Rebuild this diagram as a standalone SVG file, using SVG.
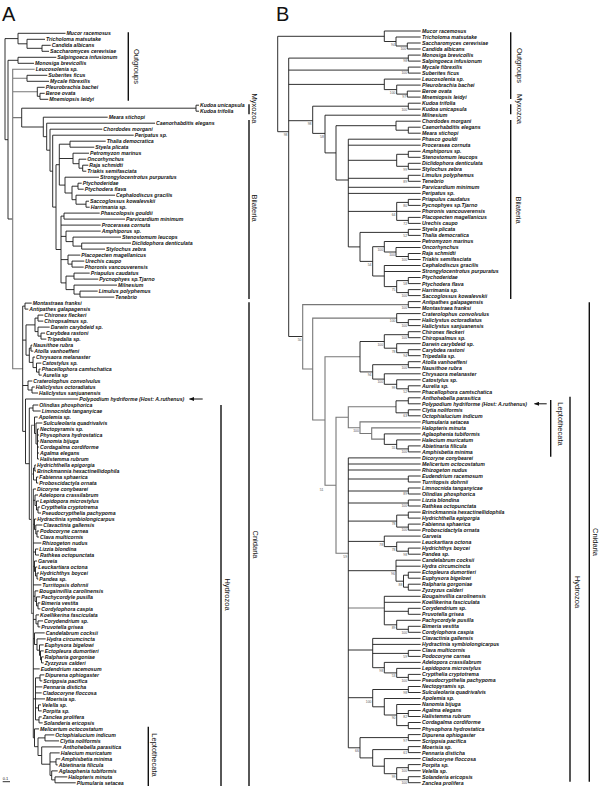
<svg xmlns="http://www.w3.org/2000/svg" width="600" height="786" viewBox="0 0 600 786">
<style>
.t{font-family:"Liberation Sans",Arial,sans-serif;font-size:5.2px;font-weight:bold;font-style:italic;fill:#111}
.bs{font-family:"Liberation Sans",Arial,sans-serif;font-size:3.4px;fill:#555;text-anchor:end}
.cl{font-family:"Liberation Sans",Arial,sans-serif;font-size:7.5px;fill:#111;text-anchor:middle}
.pl{font-family:"Liberation Sans",Arial,sans-serif;font-size:20px;fill:#111}
.br{fill:none;stroke:#1a1a1a;stroke-width:0.9}
.gr{fill:none;stroke:#777;stroke-width:1.1}
.bar{fill:none;stroke:#111;stroke-width:1.4}
.arr{fill:none;stroke:#111;stroke-width:1}
</style>
<defs>
<marker id="ah" viewBox="0 0 10 8" refX="9" refY="4" markerWidth="5" markerHeight="4" markerUnits="userSpaceOnUse" orient="auto"><path d="M0,0L10,4L0,8z" fill="#111"/></marker>
</defs>
<rect width="600" height="786" fill="#fff"/>
<text class="pl" x="2" y="20.5">A</text>
<text class="pl" x="276" y="20.5">B</text>

<g id="connectors-a">
<path class="br" d="M18,38.6H5V139.7H8M65.5,33.3H18V43.8H27M45,39.3H27V48.3H42M50.7,45.3H42V51.3H49M18,60.3H8V219H12.7M56.3,57.3H18V63.3H34"/>
<path class="gr" d="M34.7,69.3H12.7V368.8H22.7M12.7,78.3H27M12.7,91.8H37.3M12.7,117.6H21.7"/>
<path class="br" d="M47.3,75.3H27V81.3H49M44.7,87.3H37.3V96.3H40M44.7,93.3H40V99.3H48.3M196,108.2H21.7V127H43.3M199,105.2H196V111.2H199M107.7,117.2H43.3V136.7H46.7M155,123.2H46.7V150.2H50M102.3,129.2H50V171.2H52.7M133.7,135.2H52.7V207.1H56M59.3,164.7H56V249.5H61M70,144.2H59.3V185.1H65M59.3,158.5H73M105.7,141.2H70V147.2H94.3M89,153.2H73V163.7H79M86.3,159.2H79V168.2H82.7M88.3,165.2H82.7V171.2H86.3M99,177.2H65V193H72M78,186.2H72V199.7H76M81.7,183.2H78V189.2H83.7M115,195.2H76V204.2H86M89,201.2H86V207.2H89.7"/>
<path class="br" d="M64,216.1H61V282.9H66M61,225.1H100.7M61,236.4H66M61,259.6H68M99.7,213.1H64V219.1H125M100.7,231.1H66V241.6H73M121,237.1H73V246.1H81.7M131,243.1H81.7V249.1H105M80.3,255.1H68V264.1H72M84.3,261.1H72V267.1H83.7M74,276.1H66V289.6H74M89.7,273.1H74V279.1H98.3M117,285.1H74V294.1H80M97.7,291.1H80V297.1H114.3"/>
<path class="br" d="M25,306.1H22.7V431.4H25.5M22.7,340.1H26M22.7,385.5H28M31.7,303.1H25V309.1H28.3M35,324.9H26V355.2H29.3M38,318.1H35V331.6H38M43.3,315.1H38V321.1H43.3M49.7,327.1H38V336.1H41M45,333.1H41V339.1H46.3M31,348.1H29.3V362.4H33M32.3,345.1H31V351.1H33.3M35,357.1H33V367.6H36.5M41.3,363.1H36.5V372.1H39M40.7,369.1H39V375.1H41.7M32.3,381H28V390H32M34.7,387H32V393H38"/>
<path class="br" d="M78.3,399H25.5V463.7H29.3M33,408H29.3V519.4H31.5M38.3,405H33V411H40.7"/>
<path class="gr" d="M34.5,425.3H31.5V613.4H33.3M31.5,474H33.5"/>
<path class="br" d="M37.7,417H34.5V433.5H36M42.3,423H36V444H37.5M39,429H37.5V459H39M37.5,435H39M37.5,441H39M37.5,447H39M37.5,453H39M34.8,468H33.5V480H36.5M36,465H34.8V471H36M38.3,477H36.5V483H38.3"/>
<path class="br" d="M36,489H33.3V737.8H34.5M33.3,500.3H35M33.3,524.3H34.5M33.3,543H41.3M33.3,552H35.5M33.3,566.3H34.5M33.3,584.9H41.3M33.3,596.2H35M33.3,619.4H36M33.3,638.7H34.5M33.3,668.9H39.7M33.3,698.9H35.5M38,495H35V505.5H36.5M39,501H36.5V510H38M40,507H38V513H41M36.3,519H34.5V529.5H35.8M42.3,525H35.8V534H37M39,531H37V537H39M38.3,549H35.5V555H39M37,561H34.5V571.5H35.5M37.3,567H35.5V576H37M39,573H37V579H38.3M38.3,590.9H35V601.4H36.5M40.3,596.9H36.5V605.9H38M40.3,602.9H38V608.9H40.3M39,614.9H36V623.9H38M43,620.9H38V626.9H40.3M44.7,632.9H34.5V644.5H37M45.7,638.9H37V650.2H39.5M43.7,644.9H39.5V655.4H40.5M43.7,650.9H40.5V659.9H41.5M43.7,656.9H41.5V662.9H43.7M40,677.9H35.5V719.9H39M35.5,686.9H42.3M35.5,692.9H41.7M35.5,698.9H45M35.5,707.9H38.5M44.3,674.9H40V680.9H42.3M41,704.9H38.5V710.9H41.7M41.7,716.9H39V722.9H42.7M39,728.9H34.5V746.7H38M45,737.9H38V755.5H41.7M54.3,734.9H45V740.9H59M61.7,746.9H41.7V764.2H50M59.7,752.9H50V775.4H51.7M50,761.9H56M60.3,758.9H56V764.9H57.7M57.7,770.9H51.7V779.9H55M67.3,776.9H55V782.8H75.7"/>
<path class="arr" d="M202.7,399H189.5" marker-end="url(#ah)"/>
<path class="br" d="M2.7,781.7H10"/>
</g>

<g id="connectors-b">
<path class="br" d="M384.3,36.3H277.7V131.7H288.7M420.7,31H384.3V41.5H396M420.7,37H396V46H407.3M420.7,43H407.3V49H420.7M408.3,58.1H288.7V336.5H302.7M288.7,70.1H408.3M288.7,84.4H384.3M288.7,120.7H312.7M420.7,55.1H408.3V61.1H420.7M420.7,67.1H408.3V73.1H420.7M420.7,79.1H384.3V89.6H396.7M420.7,85.1H396.7V94.1H407.3M420.7,91.1H407.3V97.1H420.7M408.3,106.2H312.7V133.4H325M420.7,103.2H408.3V109.2H420.7M420.7,115.2H325V152.9H336M396,125.7H336V180H348.3M420.7,121.2H396V130.2H408.3M420.7,127.2H408.3V133.2H420.7"/>
<path class="br" d="M420.7,139.2H348.3V246.9H360M348.3,145.2H420.7M348.3,160.3H396.7M348.3,178.3H408.3M348.3,187.3H420.7M348.3,193.4H420.7M348.3,211.4H396.7M408.3,154.3H396.7V166.3H408.3M420.7,151.3H408.3V157.3H420.7M420.7,163.3H408.3V169.3H420.7M420.7,175.3H408.3V181.3H420.7M408.3,202.4H396.7V220.4H408.3M396.7,211.4H420.7M420.7,199.4H408.3V205.4H420.7M420.7,217.4H408.3V223.4H420.7M408.3,232.4H360V261.4H372.7M420.7,229.4H408.3V235.4H420.7M384.3,246.7H372.7V276H384.3M420.7,241.5H384.3V252H396M420.7,247.5H396V256.5H408.3M420.7,253.5H408.3V259.5H420.7M420.7,265.5H384.3V286.6H396.7M384.3,271.5H420.7M408.3,280.6H396.7V292.6H408.3M420.7,277.5H408.3V283.6H420.7M420.7,289.6H408.3V295.6H420.7"/>
<path class="gr" d="M408.3,304.6H302.7V369H312.7M396.7,318.1H312.7V420H325M360,356.7H325V485.3H336M348.3,417.3H336V553.3H348.3M396,406.8H348.3V427.7H360M420.7,421.9H360V433.5H371.7M420.7,427.9H371.7V439.1H384.3M348.3,608H384.3"/>
<path class="br" d="M420.7,301.6H408.3V307.6H420.7M420.7,313.6H396.7V322.6H408.3M420.7,319.6H408.3V325.6H420.7M384.3,341.5H360V371.9H372.7M408.3,334.7H384.3V348.2H396.7M420.7,331.7H408.3V337.7H420.7M420.7,343.7H396.7V352.7H408.3M420.7,349.7H408.3V355.7H420.7M408.3,364.7H372.7V379.1H384.3M420.7,361.7H408.3V367.7H420.7M420.7,373.8H384.3V384.3H396.7M420.7,379.8H396.7V388.8H408.3M420.7,385.8H408.3V391.8H420.7"/>
<path class="br" d="M408.3,400.8H396V412.8H408.3M420.7,397.8H408.3V403.8H420.7M420.7,409.8H408.3V415.8H420.7M420.7,433.9H384.3V444.4H396.7M420.7,439.9H396.7V448.9H408.3M420.7,445.9H408.3V451.9H420.7"/>
<path class="br" d="M420.7,457.9H348.3V747.8H360M348.3,464H420.7M348.3,470H420.7M348.3,479H408.3M348.3,491H408.3M348.3,503H408.3M348.3,521.1H396.7M348.3,541.4H384.3M348.3,570.7H396M348.3,650H372.7M348.3,697.7H372.7M420.7,476H408.3V482H420.7M420.7,488H408.3V494H420.7M420.7,500H408.3V506H420.7M408.3,515.1H396.7V527.1H408.3M420.7,512.1H408.3V518.1H420.7M420.7,524.1H408.3V530.1H420.7M420.7,536.1H384.3V546.6H396.7M420.7,542.1H396.7V551.2H408.3M420.7,548.1H408.3V554.2H420.7M420.7,560.2H396V581.2H403.5M396,566.2H420.7M408.3,575.2H403.5V587.2H408.3M420.7,572.2H408.3V578.2H420.7M420.7,584.2H408.3V590.2H420.7"/>
<path class="br" d="M420.7,596.3H384.3V624.8H396.7M384.3,602.3H420.7M384.3,611.3H408.3M420.7,608.3H408.3V614.3H420.7M420.7,620.3H396.7V629.3H408.3M420.7,626.3H408.3V632.3H420.7M420.7,638.4H372.7V667.7H384.3M372.7,644.4H420.7M372.7,653.4H408.3M420.7,650.4H408.3V656.4H420.7M420.7,662.4H384.3V672.9H396.7M420.7,668.4H396.7V677.4H408.3M420.7,674.4H408.3V680.4H420.7M408.3,689.5H372.7V706.8H384.3M420.7,686.5H408.3V692.5H420.7M420.7,698.5H384.3V715H396.7M420.7,704.5H396.7V725.6H408.3M396.7,713.5H408.3M420.7,710.5H408.3V716.5H420.7M420.7,722.5H408.3V728.6H420.7M408.3,737.6H360V757.9H372.7M420.7,734.6H408.3V740.6H420.7M408.3,749.6H372.7V766.2H384.3M420.7,746.6H408.3V752.6H420.7M420.7,758.6H384.3V773.7H396.7M408.3,767.7H396.7V779.7H408.3M420.7,764.6H408.3V770.7H420.7M420.7,776.7H408.3V782.7H420.7"/>
<path class="arr" d="M546.7,403.8H534.5" marker-end="url(#ah)"/>
</g>

<g id="clade-bars">
<path class="bar" d="M128.3,32.3V100.7M249,104.3V114.3M249,120V299M249,302.3V786M221,405V786M148.3,726.7V786M510.7,32.3V99M510.7,104.3V114.3M510.7,120V299M550.7,400V456.7M570,396.7V781.7M589.3,302.3V781.7"/>
<g id="lbl-a-outgroups"><text class="cl" transform="translate(133.8,66.5) rotate(90)">Outgroups</text></g>
<g id="lbl-a-myxozoa"><text class="cl" transform="translate(251.9,108.5) rotate(90)">Myxozoa</text></g>
<g id="lbl-a-bilateria"><text class="cl" transform="translate(251.9,208) rotate(90)">Bilateria</text></g>
<g id="lbl-a-cnidaria"><text class="cl" transform="translate(252.9,544.5) rotate(90)">Cnidaria</text></g>
<g id="lbl-a-hydrozoa"><text class="cl" transform="translate(224.8,594.5) rotate(90)">Hydrozoa</text></g>
<g id="lbl-a-lepto"><text class="cl" transform="translate(151.9,755) rotate(90)">Leptothecata</text></g>
<g id="lbl-b-outgroups"><text class="cl" transform="translate(516.6,65.5) rotate(90)">Outgroups</text></g>
<g id="lbl-b-myxozoa"><text class="cl" transform="translate(516.6,109) rotate(90)">Myxozoa</text></g>
<g id="lbl-b-bilateria"><text class="cl" transform="translate(516.3,210) rotate(90)">Bilateria</text></g>
<g id="lbl-b-lepto"><text class="cl" transform="translate(557.6,424) rotate(90)">Leptothecata</text></g>
<g id="lbl-b-hydrozoa"><text class="cl" transform="translate(574.6,592) rotate(90)">Hydrozoa</text></g>
<g id="lbl-b-cnidaria"><text class="cl" transform="translate(593.2,542) rotate(90)">Cnidaria</text></g>
</g>

<g id="scale-a"><text x="2.7" y="779.5" style="font-family:'Liberation Sans',Arial,sans-serif;font-size:4px;fill:#111">0.1</text></g>

<g id="leaves-a" class="t">
<g id="a001"><text x="66.5" y="35.2">Mucor racemosus</text></g>
<g id="a002"><text x="46" y="41.2">Tricholoma matsutake</text></g>
<g id="a003"><text x="51.7" y="47.2">Candida albicans</text></g>
<g id="a004"><text x="50" y="53.2">Saccharomyces cerevisiae</text></g>
<g id="a005"><text x="57.3" y="59.2">Salpingoeca infusionum</text></g>
<g id="a006"><text x="35" y="65.2">Monosiga brevicollis</text></g>
<g id="a007"><text x="35.7" y="71.2">Leucosolenia sp.</text></g>
<g id="a008"><text x="48.3" y="77.2">Suberites ficus</text></g>
<g id="a009"><text x="50" y="83.2">Mycale fibrexilis</text></g>
<g id="a010"><text x="45.7" y="89.2">Pleurobrachia bachei</text></g>
<g id="a011"><text x="45.7" y="95.2">Beroe ovata</text></g>
<g id="a012"><text x="49.3" y="101.2">Mnemiopsis leidyi</text></g>
<g id="a013"><text x="200" y="107.1">Kudoa unicapsula</text></g>
<g id="a014"><text x="200" y="113.1">Kudoa trifolia</text></g>
<g id="a015"><text x="108.7" y="119.1">Meara stichopi</text></g>
<g id="a016"><text x="156" y="125.1">Caenorhabditis elegans</text></g>
<g id="a017"><text x="103.3" y="131.1">Chordodes morgani</text></g>
<g id="a018"><text x="134.7" y="137.1">Peripatus sp.</text></g>
<g id="a019"><text x="106.7" y="143.1">Thalia democratica</text></g>
<g id="a020"><text x="95.3" y="149.1">Styela plicata</text></g>
<g id="a021"><text x="90" y="155.1">Petromyzon marinus</text></g>
<g id="a022"><text x="87.3" y="161.1">Oncorhynchus</text></g>
<g id="a023"><text x="89.3" y="167.1">Raja schmidti</text></g>
<g id="a024"><text x="87.3" y="173.1">Triakis semifasciata</text></g>
<g id="a025"><text x="100" y="179.1">Strongylocentrotus purpuratus</text></g>
<g id="a026"><text x="82.7" y="185.1">Ptychoderidae</text></g>
<g id="a027"><text x="84.7" y="191.1">Ptychodera flava</text></g>
<g id="a028"><text x="116" y="197.1">Cephalodiscus gracilis</text></g>
<g id="a029"><text x="90" y="203.1">Saccoglossus kowalevskii</text></g>
<g id="a030"><text x="90.7" y="209.1">Harrimania sp.</text></g>
<g id="a031"><text x="100.7" y="215">Phascolopsis gouldii</text></g>
<g id="a032"><text x="126" y="221">Parvicardium minimum</text></g>
<g id="a033"><text x="101.7" y="227">Procerasea cornuta</text></g>
<g id="a034"><text x="101.7" y="233">Amphiporus sp.</text></g>
<g id="a035"><text x="122" y="239">Stenostomum leucops</text></g>
<g id="a036"><text x="132" y="245">Diclidophora denticulata</text></g>
<g id="a037"><text x="106" y="251">Stylochus zebra</text></g>
<g id="a038"><text x="81.3" y="257">Placopecten magellanicus</text></g>
<g id="a039"><text x="85.3" y="263">Urechis caupo</text></g>
<g id="a040"><text x="84.7" y="269">Phoronis vancouverensis</text></g>
<g id="a041"><text x="90.7" y="275">Priapulus caudatus</text></g>
<g id="a042"><text x="99.3" y="281">Pycnophyes sp.Tjarno</text></g>
<g id="a043"><text x="118" y="287">Milnesium</text></g>
<g id="a044"><text x="98.7" y="293">Limulus polyphemus</text></g>
<g id="a045"><text x="115.3" y="299">Tenebrio</text></g>
<g id="a046"><text x="32.7" y="305">Montastraea franksi</text></g>
<g id="a047"><text x="29.3" y="311">Antipathes galapagensis</text></g>
<g id="a048"><text x="44.3" y="317">Chironex fleckeri</text></g>
<g id="a049"><text x="44.3" y="323">Chiropsalmus sp.</text></g>
<g id="a050"><text x="50.7" y="329">Darwin carybdeid sp.</text></g>
<g id="a051"><text x="46" y="335">Carybdea rastoni</text></g>
<g id="a052"><text x="47.3" y="341">Tripedalia sp.</text></g>
<g id="a053"><text x="33.3" y="347">Nausithoe rubra</text></g>
<g id="a054"><text x="34.3" y="353">Atolla vanhoeffeni</text></g>
<g id="a055"><text x="36" y="359">Chrysaora melanaster</text></g>
<g id="a056"><text x="42.3" y="365">Catostylus sp.</text></g>
<g id="a057"><text x="41.7" y="371">Phacellophora camtschatica</text></g>
<g id="a058"><text x="42.7" y="377">Aurelia sp</text></g>
<g id="a059"><text x="33.3" y="382.9">Craterolophus convolvulus</text></g>
<g id="a060"><text x="35.7" y="388.9">Haliclystus octoradiatus</text></g>
<g id="a061"><text x="39" y="394.9">Haliclystus sanjuanensis</text></g>
<g id="a062"><text x="79.3" y="400.9">Polypodium hydriforme (Host: A.ruthenus)</text></g>
<g id="a063"><text x="39.3" y="406.9">Olindias phosphorica</text></g>
<g id="a064"><text x="41.7" y="412.9">Limnocnida tanganyicae</text></g>
<g id="a065"><text x="38.7" y="418.9">Apolemia sp.</text></g>
<g id="a066"><text x="43.3" y="424.9">Sulculeolaria quadrivalvis</text></g>
<g id="a067"><text x="40" y="430.9">Nectopyramis sp.</text></g>
<g id="a068"><text x="40" y="436.9">Physophora hydrostatica</text></g>
<g id="a069"><text x="40" y="442.9">Nanomia bijuga</text></g>
<g id="a070"><text x="40" y="448.9">Cordagalma cordiforme</text></g>
<g id="a071"><text x="40" y="454.9">Agalma elegans</text></g>
<g id="a072"><text x="40" y="460.9">Halistemma rubrum</text></g>
<g id="a073"><text x="37" y="466.9">Hydrichthella epigorgia</text></g>
<g id="a074"><text x="37" y="472.9">Brinckmannia hexactinellidophila</text></g>
<g id="a075"><text x="39.3" y="478.9">Fabienna sphaerica</text></g>
<g id="a076"><text x="39.3" y="484.9">Proboscidactyla ornata</text></g>
<g id="a077"><text x="37" y="490.9">Dicoryne conybearei</text></g>
<g id="a078"><text x="39" y="496.9">Adelopora crassilabrum</text></g>
<g id="a079"><text x="40" y="502.9">Lepidopora microstylus</text></g>
<g id="a080"><text x="41" y="508.9">Crypthelia cryptotrema</text></g>
<g id="a081"><text x="42" y="514.9">Pseudocrypthelia pachypoma</text></g>
<g id="a082"><text x="37.3" y="520.9">Hydractinia symbiolongicarpus</text></g>
<g id="a083"><text x="43.3" y="526.9">Clavactinia gallensis</text></g>
<g id="a084"><text x="40" y="532.9">Podocoryne carnea</text></g>
<g id="a085"><text x="40" y="538.9">Clava multicornis</text></g>
<g id="a086"><text x="42.3" y="544.9">Rhizogeton nudus</text></g>
<g id="a087"><text x="39.3" y="550.9">Lizzia blondina</text></g>
<g id="a088"><text x="40" y="556.9">Rathkea octopunctata</text></g>
<g id="a089"><text x="38" y="562.9">Garveia</text></g>
<g id="a090"><text x="38.3" y="568.9">Leuckartiara octona</text></g>
<g id="a091"><text x="40" y="574.9">Hydrichthys boycei</text></g>
<g id="a092"><text x="39.3" y="580.9">Pandea sp.</text></g>
<g id="a093"><text x="42.3" y="586.8">Turritopsis dohrnii</text></g>
<g id="a094"><text x="39.3" y="592.8">Bougainvillia carolinensis</text></g>
<g id="a095"><text x="41.3" y="598.8">Pachycordyle pusilla</text></g>
<g id="a096"><text x="41.3" y="604.8">Bimeria vestita</text></g>
<g id="a097"><text x="41.3" y="610.8">Cordylophora caspia</text></g>
<g id="a098"><text x="40" y="616.8">Koellikerina fasciculata</text></g>
<g id="a099"><text x="44" y="622.8">Corydendrium sp.</text></g>
<g id="a100"><text x="41.3" y="628.8">Pruvotella grisea</text></g>
<g id="a101"><text x="45.7" y="634.8">Candelabrum cocksii</text></g>
<g id="a102"><text x="46.7" y="640.8">Hydra circumcincta</text></g>
<g id="a103"><text x="44.7" y="646.8">Euphysora bigelowi</text></g>
<g id="a104"><text x="44.7" y="652.8">Ectopleura dumortieri</text></g>
<g id="a105"><text x="44.7" y="658.8">Ralpharia gorgoniae</text></g>
<g id="a106"><text x="44.7" y="664.8">Zyzzyzus calderi</text></g>
<g id="a107"><text x="40.7" y="670.8">Eudendrium racemosum</text></g>
<g id="a108"><text x="45.3" y="676.8">Dipurena ophiogaster</text></g>
<g id="a109"><text x="43.3" y="682.8">Scrippsia pacifica</text></g>
<g id="a110"><text x="43.3" y="688.8">Pennaria disticha</text></g>
<g id="a111"><text x="42.7" y="694.8">Cladocoryne floccosa</text></g>
<g id="a112"><text x="46" y="700.8">Moerisia sp.</text></g>
<g id="a113"><text x="42" y="706.8">Velella sp.</text></g>
<g id="a114"><text x="42.7" y="712.8">Porpita sp.</text></g>
<g id="a115"><text x="42.7" y="718.8">Zanclea prolifera</text></g>
<g id="a116"><text x="43.7" y="724.8">Solanderia ericopsis</text></g>
<g id="a117"><text x="40" y="730.8">Melicertum octocostatum</text></g>
<g id="a118"><text x="55.3" y="736.8">Octophialucium indicum</text></g>
<g id="a119"><text x="60" y="742.8">Clytia noliformis</text></g>
<g id="a120"><text x="62.7" y="748.8">Anthohebella parasitica</text></g>
<g id="a121"><text x="60.7" y="754.8">Halecium muricatum</text></g>
<g id="a122"><text x="61.3" y="760.8">Amphisbetia minima</text></g>
<g id="a123"><text x="58.7" y="766.8">Abietinaria filicula</text></g>
<g id="a124"><text x="58.7" y="772.8">Aglaophenia tubiformis</text></g>
<g id="a125"><text x="68.3" y="778.8">Halopteris minuta</text></g>
<g id="a126"><text x="76.7" y="784.7">Plumularia setacea</text></g>
</g>

<g id="leaves-b" class="t">
<g id="b001"><text x="422" y="32.9">Mucor racemosus</text></g>
<g id="b002"><text x="422" y="38.9">Tricholoma matsutake</text></g>
<g id="b003"><text x="422" y="44.9">Saccharomyces cerevisiae</text></g>
<g id="b004"><text x="422" y="50.9">Candida albicans</text></g>
<g id="b005"><text x="422" y="57">Monosiga brevicollis</text></g>
<g id="b006"><text x="422" y="63">Salpingoeca infusionum</text></g>
<g id="b007"><text x="422" y="69">Mycale fibrexilis</text></g>
<g id="b008"><text x="422" y="75">Suberites ficus</text></g>
<g id="b009"><text x="422" y="81">Leucosolenia sp.</text></g>
<g id="b010"><text x="422" y="87">Pleurobrachia bachei</text></g>
<g id="b011"><text x="422" y="93">Beroe ovata</text></g>
<g id="b012"><text x="422" y="99">Mnemiopsis leidyi</text></g>
<g id="b013"><text x="422" y="105.1">Kudoa trifolia</text></g>
<g id="b014"><text x="422" y="111.1">Kudoa unicapsula</text></g>
<g id="b015"><text x="422" y="117.1">Milnesium</text></g>
<g id="b016"><text x="422" y="123.1">Chordodes morgani</text></g>
<g id="b017"><text x="422" y="129.1">Caenorhabditis elegans</text></g>
<g id="b018"><text x="422" y="135.1">Meara stichopi</text></g>
<g id="b019"><text x="422" y="141.1">Phasco gouldi</text></g>
<g id="b020"><text x="422" y="147.1">Procerasea cornuta</text></g>
<g id="b021"><text x="422" y="153.2">Amphiporus sp.</text></g>
<g id="b022"><text x="422" y="159.2">Stenostomum leucops</text></g>
<g id="b023"><text x="422" y="165.2">Diclidophora denticulata</text></g>
<g id="b024"><text x="422" y="171.2">Stylochus zebra</text></g>
<g id="b025"><text x="422" y="177.2">Limulus polyphemus</text></g>
<g id="b026"><text x="422" y="183.2">Tenebrio</text></g>
<g id="b027"><text x="422" y="189.2">Parvicardium minimum</text></g>
<g id="b028"><text x="422" y="195.3">Peripatus sp.</text></g>
<g id="b029"><text x="422" y="201.3">Priapulus caudatus</text></g>
<g id="b030"><text x="422" y="207.3">Pycnophyes sp.Tjarno</text></g>
<g id="b031"><text x="422" y="213.3">Phoronis vancouverensis</text></g>
<g id="b032"><text x="422" y="219.3">Placopecten magellanicus</text></g>
<g id="b033"><text x="422" y="225.3">Urechis caupo</text></g>
<g id="b034"><text x="422" y="231.3">Styela plicata</text></g>
<g id="b035"><text x="422" y="237.3">Thalia democratica</text></g>
<g id="b036"><text x="422" y="243.4">Petromyzon marinus</text></g>
<g id="b037"><text x="422" y="249.4">Oncorhynchus</text></g>
<g id="b038"><text x="422" y="255.4">Raja schmidti</text></g>
<g id="b039"><text x="422" y="261.4">Triakis semifasciata</text></g>
<g id="b040"><text x="422" y="267.4">Cephalodiscus gracilis</text></g>
<g id="b041"><text x="422" y="273.4">Strongylocentrotus purpuratus</text></g>
<g id="b042"><text x="422" y="279.4">Ptychoderidae</text></g>
<g id="b043"><text x="422" y="285.5">Ptychodera flava</text></g>
<g id="b044"><text x="422" y="291.5">Harrimania sp.</text></g>
<g id="b045"><text x="422" y="297.5">Saccoglossus kowalevskii</text></g>
<g id="b046"><text x="422" y="303.5">Antipathes galapagensis</text></g>
<g id="b047"><text x="422" y="309.5">Montastraea franksi</text></g>
<g id="b048"><text x="422" y="315.5">Craterolophus convolvulus</text></g>
<g id="b049"><text x="422" y="321.5">Haliclystus octoradiatus</text></g>
<g id="b050"><text x="422" y="327.5">Haliclystus sanjuanensis</text></g>
<g id="b051"><text x="422" y="333.6">Chironex fleckeri</text></g>
<g id="b052"><text x="422" y="339.6">Chiropsalmus sp.</text></g>
<g id="b053"><text x="422" y="345.6">Darwin carybdeid sp.</text></g>
<g id="b054"><text x="422" y="351.6">Carybdea rastoni</text></g>
<g id="b055"><text x="422" y="357.6">Tripedalia sp.</text></g>
<g id="b056"><text x="422" y="363.6">Atolla vanhoeffeni</text></g>
<g id="b057"><text x="422" y="369.6">Nausithoe rubra</text></g>
<g id="b058"><text x="422" y="375.7">Chrysaora melanaster</text></g>
<g id="b059"><text x="422" y="381.7">Catostylus sp.</text></g>
<g id="b060"><text x="422" y="387.7">Aurelia sp.</text></g>
<g id="b061"><text x="422" y="393.7">Phacellophora camtschatica</text></g>
<g id="b062"><text x="422" y="399.7">Anthohebella parasitica</text></g>
<g id="b063"><text x="422" y="405.7">Polypodium hydriforme (Host: A.ruthenus)</text></g>
<g id="b064"><text x="422" y="411.7">Clytia noliformis</text></g>
<g id="b065"><text x="422" y="417.7">Octophialucium indicum</text></g>
<g id="b066"><text x="422" y="423.8">Plumularia setacea</text></g>
<g id="b067"><text x="422" y="429.8">Halopteris minuta</text></g>
<g id="b068"><text x="422" y="435.8">Aglaophenia tubiformis</text></g>
<g id="b069"><text x="422" y="441.8">Halecium muricatum</text></g>
<g id="b070"><text x="422" y="447.8">Abietinaria filicula</text></g>
<g id="b071"><text x="422" y="453.8">Amphisbetia minima</text></g>
<g id="b072"><text x="422" y="459.8">Dicoryne conybearei</text></g>
<g id="b073"><text x="422" y="465.9">Melicertum octocostatum</text></g>
<g id="b074"><text x="422" y="471.9">Rhizogeton nudus</text></g>
<g id="b075"><text x="422" y="477.9">Eudendrium racemosum</text></g>
<g id="b076"><text x="422" y="483.9">Turritopsis dohrnii</text></g>
<g id="b077"><text x="422" y="489.9">Limnocnida tanganyicae</text></g>
<g id="b078"><text x="422" y="495.9">Olindias phosphorica</text></g>
<g id="b079"><text x="422" y="501.9">Lizzia blondina</text></g>
<g id="b080"><text x="422" y="507.9">Rathkea octopunctata</text></g>
<g id="b081"><text x="422" y="514">Brinckmannia hexactinellidophila</text></g>
<g id="b082"><text x="422" y="520">Hydrichthella epigorgia</text></g>
<g id="b083"><text x="422" y="526">Fabienna sphaerica</text></g>
<g id="b084"><text x="422" y="532">Proboscidactyla ornata</text></g>
<g id="b085"><text x="422" y="538">Garveia</text></g>
<g id="b086"><text x="422" y="544">Leuckartiara octona</text></g>
<g id="b087"><text x="422" y="550">Hydrichthys boycei</text></g>
<g id="b088"><text x="422" y="556.1">Pandea sp.</text></g>
<g id="b089"><text x="422" y="562.1">Candelabrum cocksii</text></g>
<g id="b090"><text x="422" y="568.1">Hydra circumcincta</text></g>
<g id="b091"><text x="422" y="574.1">Ectopleura dumortieri</text></g>
<g id="b092"><text x="422" y="580.1">Euphysora bigelowi</text></g>
<g id="b093"><text x="422" y="586.1">Ralpharia gorgoniae</text></g>
<g id="b094"><text x="422" y="592.1">Zyzzyzus calderi</text></g>
<g id="b095"><text x="422" y="598.2">Bougainvillia carolinensis</text></g>
<g id="b096"><text x="422" y="604.2">Koellikerina fasciculata</text></g>
<g id="b097"><text x="422" y="610.2">Corydendrium sp.</text></g>
<g id="b098"><text x="422" y="616.2">Pruvotella grisea</text></g>
<g id="b099"><text x="422" y="622.2">Pachycordyle pusilla</text></g>
<g id="b100"><text x="422" y="628.2">Bimeria vestita</text></g>
<g id="b101"><text x="422" y="634.2">Cordylophora caspia</text></g>
<g id="b102"><text x="422" y="640.3">Clavactinia gallensis</text></g>
<g id="b103"><text x="422" y="646.3">Hydractinia symbiolongicarpus</text></g>
<g id="b104"><text x="422" y="652.3">Clava multicornis</text></g>
<g id="b105"><text x="422" y="658.3">Podocoryne carnea</text></g>
<g id="b106"><text x="422" y="664.3">Adelopora crassilabrum</text></g>
<g id="b107"><text x="422" y="670.3">Lepidopora microstylus</text></g>
<g id="b108"><text x="422" y="676.3">Crypthelia cryptotrema</text></g>
<g id="b109"><text x="422" y="682.3">Pseudocrypthelia pachypoma</text></g>
<g id="b110"><text x="422" y="688.4">Nectopyramis sp.</text></g>
<g id="b111"><text x="422" y="694.4">Sulculeolaria quadrivalvis</text></g>
<g id="b112"><text x="422" y="700.4">Apolemia sp.</text></g>
<g id="b113"><text x="422" y="706.4">Nanomia bijuga</text></g>
<g id="b114"><text x="422" y="712.4">Agalma elegans</text></g>
<g id="b115"><text x="422" y="718.4">Halistemma rubrum</text></g>
<g id="b116"><text x="422" y="724.4">Cordagalma cordiforme</text></g>
<g id="b117"><text x="422" y="730.5">Physophora hydrostatica</text></g>
<g id="b118"><text x="422" y="736.5">Dipurena ophiogaster</text></g>
<g id="b119"><text x="422" y="742.5">Scrippsia pacifica</text></g>
<g id="b120"><text x="422" y="748.5">Moerisia sp.</text></g>
<g id="b121"><text x="422" y="754.5">Pennaria disticha</text></g>
<g id="b122"><text x="422" y="760.5">Cladocoryne floccosa</text></g>
<g id="b123"><text x="422" y="766.5">Porpita sp.</text></g>
<g id="b124"><text x="422" y="772.6">Velella sp.</text></g>
<g id="b125"><text x="422" y="778.6">Solanderia ericopsis</text></g>
<g id="b126"><text x="422" y="784.6">Zanclea prolifera</text></g>
</g>

<g id="bootstrap-b" class="bs">
<text x="394.8" y="45.8">94</text><text x="406.1" y="50.3">100</text><text x="407.1" y="62.4">98</text><text x="407.1" y="74.4">100</text>
<text x="395.5" y="93.9">100</text><text x="406.1" y="98.4">97</text><text x="407.1" y="110.5">100</text><text x="311.5" y="125">98</text>
<text x="323.8" y="137.7">58</text><text x="287.5" y="136">98</text><text x="301.5" y="340.8">50</text><text x="407.1" y="170.6">99</text>
<text x="407.1" y="182.6">89</text><text x="407.1" y="206.7">80</text><text x="395.5" y="215.7">64</text><text x="407.1" y="224.7">72</text>
<text x="407.1" y="236.7">52</text><text x="383.1" y="251">100</text><text x="394.8" y="256.3">100</text><text x="407.1" y="260.8">100</text>
<text x="371.5" y="265.7">54</text><text x="407.1" y="284.9">58</text><text x="395.5" y="290.9">75</text><text x="407.1" y="296.9">100</text>
<text x="407.1" y="308.9">100</text><text x="395.5" y="322.4">100</text><text x="407.1" y="326.9">100</text><text x="407.1" y="339">100</text>
<text x="383.1" y="345.8">100</text><text x="395.5" y="352.5">78</text><text x="407.1" y="357">94</text><text x="407.1" y="369">100</text>
<text x="371.5" y="376.2">94</text><text x="383.1" y="383.4">100</text><text x="395.5" y="388.6">99</text><text x="407.1" y="393.1">52</text>
<text x="407.1" y="417.1">63</text><text x="358.8" y="432">100</text><text x="395.5" y="448.7">55</text><text x="407.1" y="453.2">100</text>
<text x="323.5" y="490.5">51</text><text x="407.1" y="495.3">89</text><text x="407.1" y="507.3">100</text><text x="395.5" y="525.4">78</text>
<text x="407.1" y="531.4">100</text><text x="383.1" y="545.7">78</text><text x="395.5" y="550.9">78</text><text x="407.1" y="555.5">98</text>
<text x="347.1" y="557.6">59</text><text x="394.8" y="575">96</text><text x="402.3" y="585.5">88</text><text x="395.5" y="629.1">89</text>
<text x="407.1" y="633.6">100</text><text x="407.1" y="657.7">59</text><text x="383.1" y="672">98</text><text x="395.5" y="677.2">53</text>
<text x="407.1" y="681.7">100</text><text x="407.1" y="693.8">98</text><text x="371.5" y="702.5">100</text><text x="407.1" y="717.8">82</text>
<text x="395.5" y="719.3">90</text><text x="407.1" y="741.9">97</text><text x="358.8" y="752.1">66</text><text x="407.1" y="753.9">61</text>
<text x="407.1" y="772">100</text><text x="395.5" y="778">99</text><text x="407.1" y="784">100</text>
</g>
</svg>
